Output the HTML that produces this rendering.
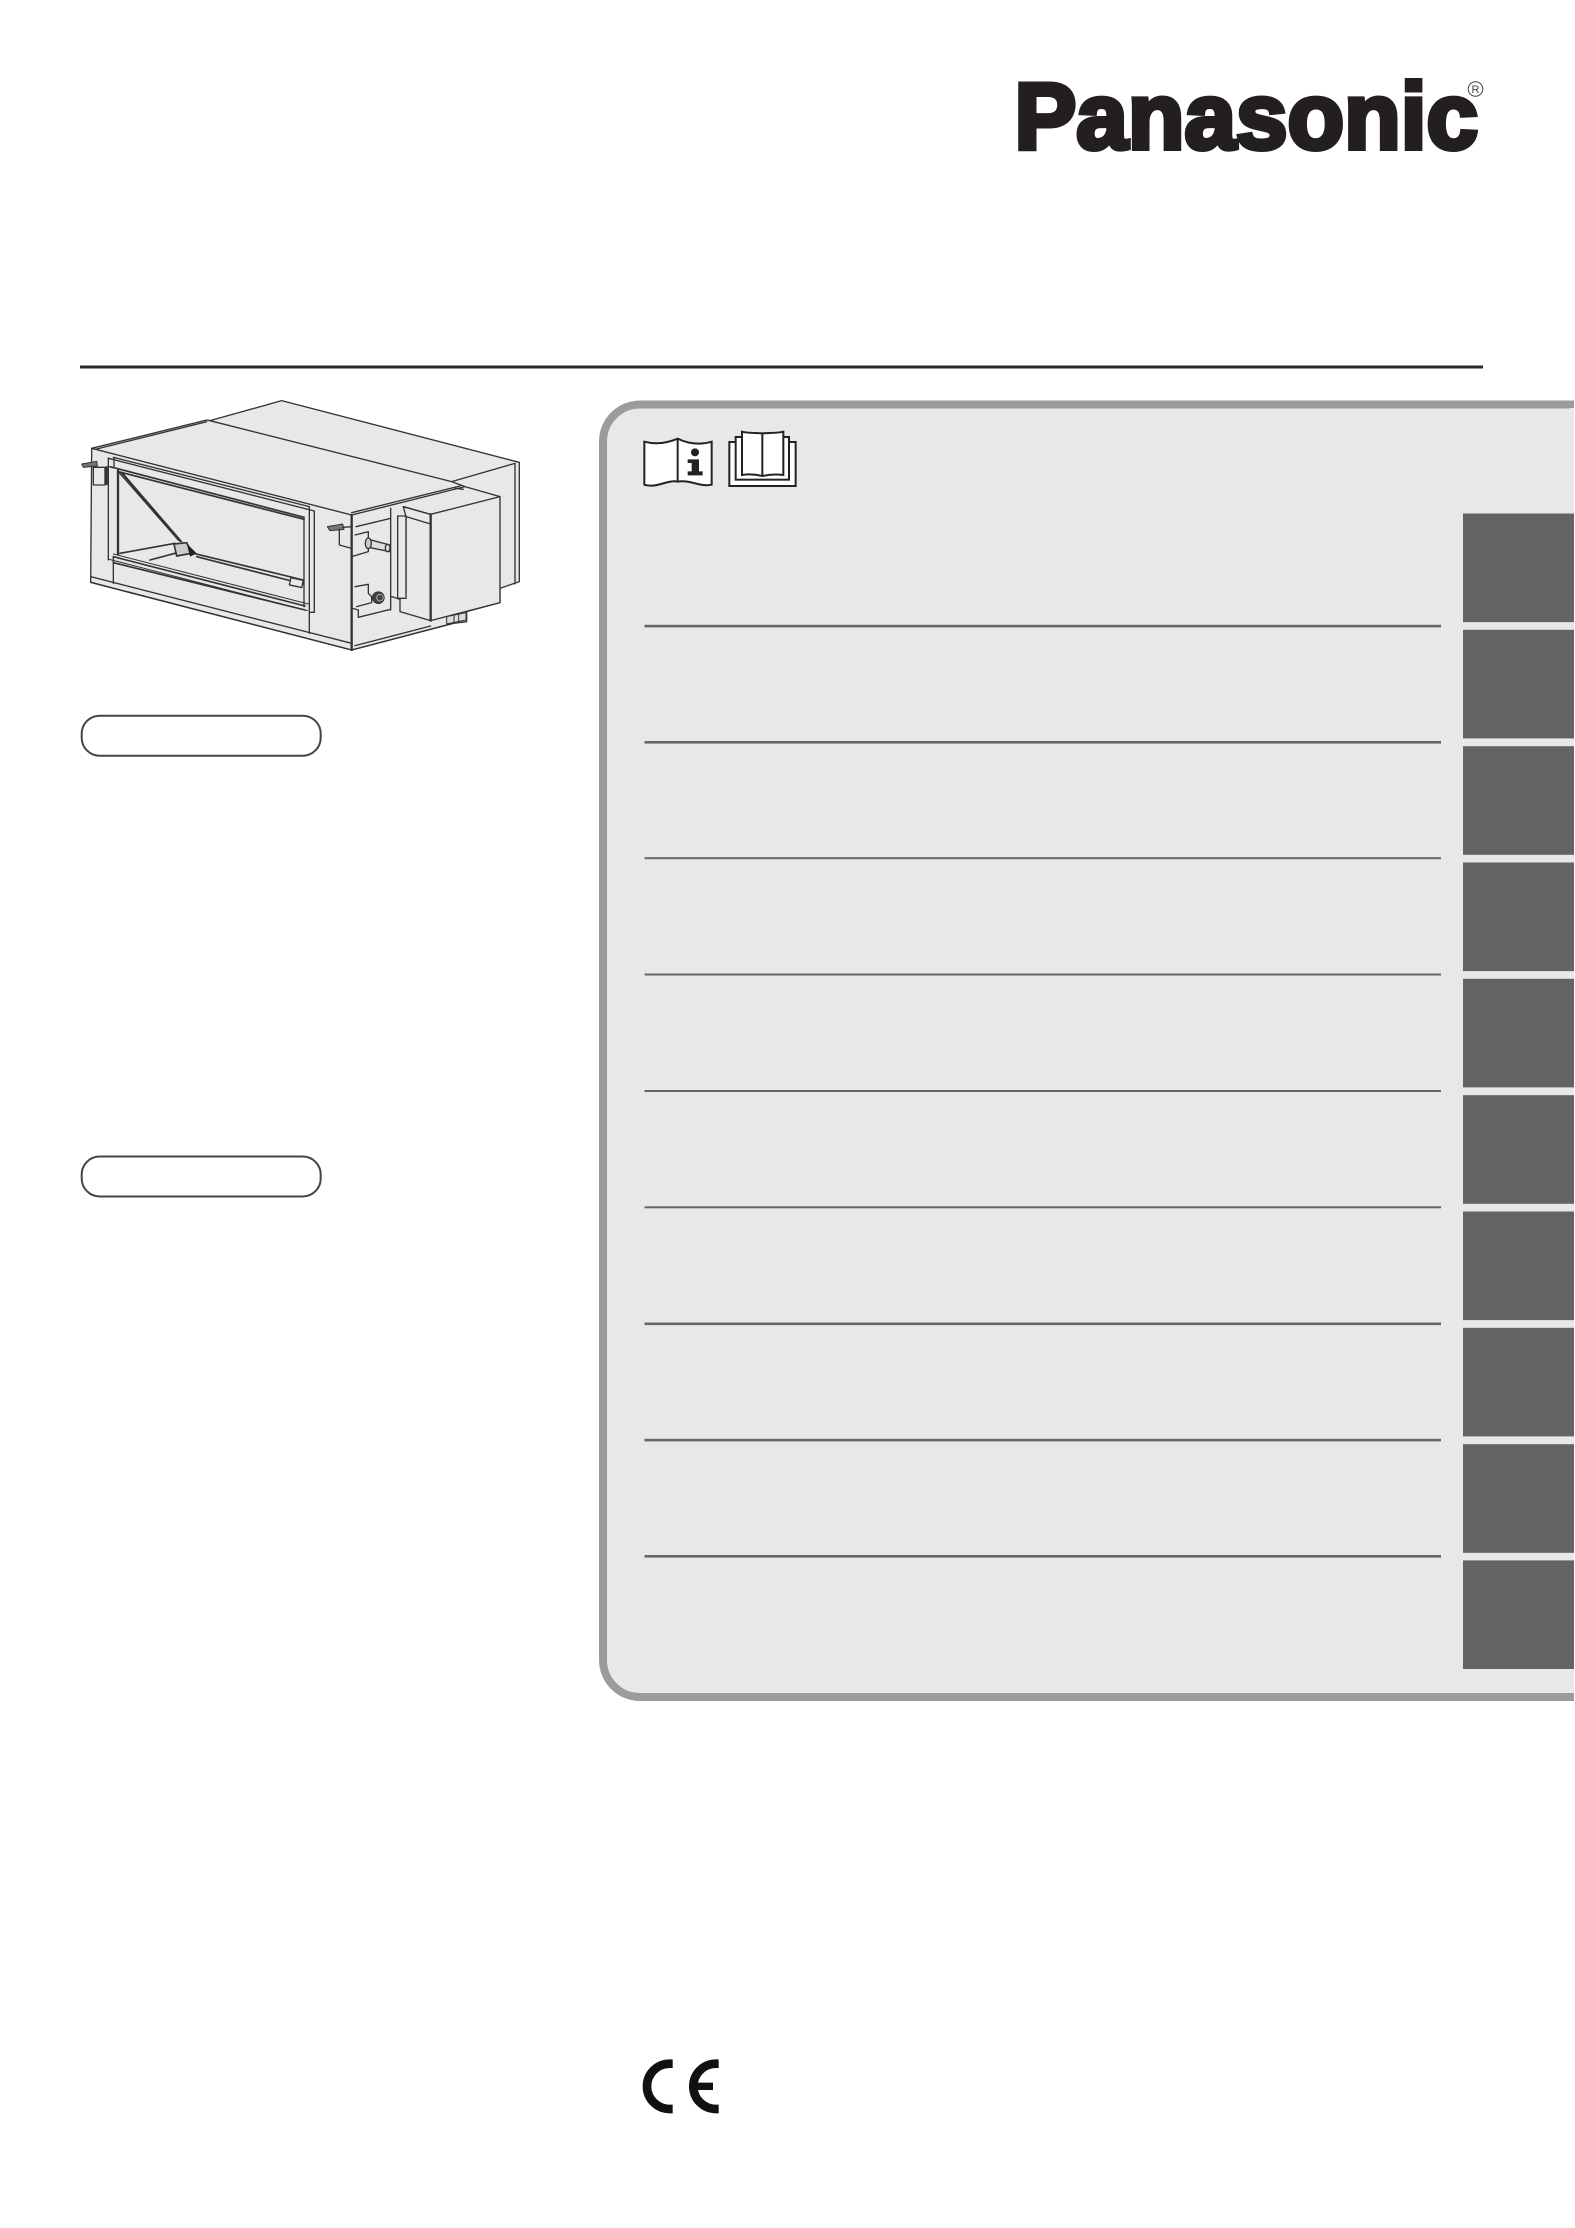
<!DOCTYPE html>
<html><head><meta charset="utf-8"><title>Panasonic</title>
<style>html,body{margin:0;padding:0;background:#fff}body{width:1575px;height:2228px;overflow:hidden;position:relative}svg{position:absolute;left:0;top:0}</style>
</head><body>
<svg width="1575" height="2228" viewBox="0 0 1575 2228" xmlns="http://www.w3.org/2000/svg" fill="none">
<!-- logo -->
<text x="1014.5" y="148.5" font-family="'Liberation Sans',sans-serif" font-weight="700" font-size="94" fill="#231f20" stroke="#231f20" stroke-width="5" textLength="463.5" lengthAdjust="spacingAndGlyphs">Panasonic</text>
<circle cx="1475.5" cy="89" r="7.3" stroke="#444" stroke-width="1"/>
<text x="1475.5" y="93" font-family="'Liberation Sans',sans-serif" font-size="11" fill="#444" text-anchor="middle">R</text>
<!-- top rule -->
<rect x="80" y="365.5" width="1403" height="3" fill="#2a2a2a"/>
<!-- panel -->
<path d="M1574 404.5H640A37 37 0 0 0 603 441.5V1660A37 37 0 0 0 640 1697H1574" fill="#e8e8e8" stroke="#9c9a9a" stroke-width="8"/>
<rect x="1570" y="408" width="4" height="1285" fill="#e8e8e8"/>
<!-- tabs -->
<g fill="#656263">
<rect x="1463" y="513.5" width="111" height="108.6"/><rect x="1463" y="629.8" width="111" height="108.6"/><rect x="1463" y="746.2" width="111" height="108.6"/><rect x="1463" y="862.5" width="111" height="108.6"/><rect x="1463" y="978.8" width="111" height="108.6"/><rect x="1463" y="1095.2" width="111" height="108.6"/><rect x="1463" y="1211.5" width="111" height="108.6"/><rect x="1463" y="1327.8" width="111" height="108.6"/><rect x="1463" y="1444.2" width="111" height="108.6"/><rect x="1463" y="1560.4" width="111" height="108.6"/>
</g>
<!-- rules -->
<g fill="#666">
<rect x="644.5" y="624.8" width="796.5" height="2.6"/><rect x="644.5" y="741" width="796.5" height="2.6"/><rect x="644.5" y="857.2" width="796.5" height="2"/><rect x="644.5" y="973.5" width="796.5" height="2"/><rect x="644.5" y="1090" width="796.5" height="2"/><rect x="644.5" y="1206.3" width="796.5" height="2"/><rect x="644.5" y="1322.5" width="796.5" height="2.6"/><rect x="644.5" y="1438.8" width="796.5" height="2.6"/><rect x="644.5" y="1555" width="796.5" height="2.6"/>
</g>
<!-- book icons -->
<g transform="translate(590 390) scale(.33333)" stroke="#222" stroke-width="6" fill="#fff">
<path d="M163 155C190 162 225 162 263 146C295 162 330 165 365 155V284C330 292 300 268 263 275C232 268 200 296 163 284Z"/>
<path d="M263 146V275"/>
<circle cx="315" cy="187" r="12" fill="#222" stroke="none"/>
<path d="M293 208H327V244H338V256H293V244H305V219H293Z" fill="#222" stroke="none"/>
<rect x="418" y="156" width="199" height="132"/>
<rect x="437" y="141" width="160" height="128"/>
<path d="M456 125C475 130 500 128 517 130C535 128 560 130 580 125V255C560 252 535 254 517 258C500 254 475 252 456 255Z"/>
<path d="M517 130V258"/>
</g>
<!-- CE -->
<g transform="translate(620 2040) scale(.33333)" stroke="#111" stroke-width="26">
<path d="M158 71H149A68 68 0 0 0 149 207H158"/>
<path d="M296 71H288A68 68 0 0 0 288 207H296"/>
<path d="M225 139H279" stroke-width="22"/>
</g>
<!-- pills -->
<rect x="81.7" y="715.7" width="239" height="40" rx="18" fill="#fff" stroke="#444" stroke-width="2"/>
<rect x="81.7" y="1156.5" width="239" height="40" rx="18" fill="#fff" stroke="#444" stroke-width="2"/>
<!-- unit -->
<g transform="translate(50 380) scale(.33333)" stroke="#333" stroke-width="4" stroke-linejoin="round" stroke-linecap="round">
<path fill="#e8e8e8" d="M125 205L470 120L480 122L695 62L1408 247V605L1350 625V668L1250 695V725L1210 730L905 810L122 607Z"/>
<path fill="#e8e8e8" d="M1142 403L1350 350V668L1142 722L1050 695V655L1068 640V410L1060 380Z"/>
<path d="M140 207L470 125M480 122L1205 305L1245 320L1350 350M1205 305L1395 250M1395 250V612M125 205L905 405L1245 320M905 398L1230 318M1215 325L1240 328"/>
<path d="M1068 410L1142 432M1060 380L1142 403"/>
<path stroke-width="7" d="M1142 403V722"/>
<path stroke-width="7" d="M905 405V810"/>
<path d="M122 590L905 790M122 607L905 810L1210 730M915 797L1142 738"/>
<path d="M190 530V610M778 380V760M793 393V697L778 697M175 235L793 393M190 232L778 380"/>
<path stroke-width="5" d="M180 260L762 412M205 275L762 418"/>
<path d="M175 235V540M192 235V260"/>
<path stroke-width="7" d="M204 272V522"/>
<path stroke-width="3" d="M190 522L775 672M178 538L772 692"/>
<path stroke-width="5" d="M190 530L765 678M190 548L765 690"/>
<path d="M762 412V680"/>
<path d="M220 282L395 485M205 275L385 480"/>
<path stroke-width="6" d="M215 278L390 483"/>
<path stroke-width="5" d="M210 520L375 490M300 540L375 520M430 520L760 600M440 530L760 612"/>
<path stroke-width="5" fill="#ccc" d="M372 492L410 488L425 520L380 528Z"/>
<path fill="#222" stroke="none" d="M410 490L440 520L420 530Z"/>
<rect x="720" y="597" width="38" height="22" fill="#e8e8e8" transform="rotate(12 739 608)"/>
<!-- left clip -->
<path fill="#e8e8e8" d="M130 262H165V315H130Z"/>
<path fill="#777" stroke-width="3" d="M95 252L140 244L142 258L100 262Z"/>
<path stroke-width="7" d="M170 262V312"/>
<!-- right side -->
<path d="M1022 385V690M918 440L1022 415M925 712L1022 688"/>
<path fill="#e8e8e8" d="M1043 408H1068V655H1043Z"/>
</g>
<g transform="translate(300 440) scale(.33333)" stroke="#333" stroke-width="4" stroke-linejoin="round" stroke-linecap="round">
<path fill="#777" stroke-width="3" d="M82 260L128 252L132 268L90 272Z"/>
<path d="M128 262L155 260"/>
<path d="M118 268V315L155 325V350L205 335V320M165 285L205 275V300"/>
<path fill="#ddd" d="M205 298L270 315V335L205 322Z"/>
<ellipse cx="205" cy="310" rx="9" ry="16" fill="#ccc"/>
<ellipse cx="263" cy="324" rx="7" ry="11" fill="#ddd"/>
<path d="M165 440L205 433V460L215 470V488L170 500M175 510V530M158 505L175 510"/>
<circle cx="235" cy="473" r="17" fill="#444"/>
<circle cx="240" cy="473" r="10" fill="none" stroke="#aaa" stroke-width="3"/>
<path d="M275 470L300 478"/>
<!-- drain -->
<path fill="#ddd" stroke-width="3" d="M440 530L498 518V540L440 552Z"/>
<path stroke-width="3" d="M462 528V548M476 525V545"/>
</g>
</svg>
</body></html>
